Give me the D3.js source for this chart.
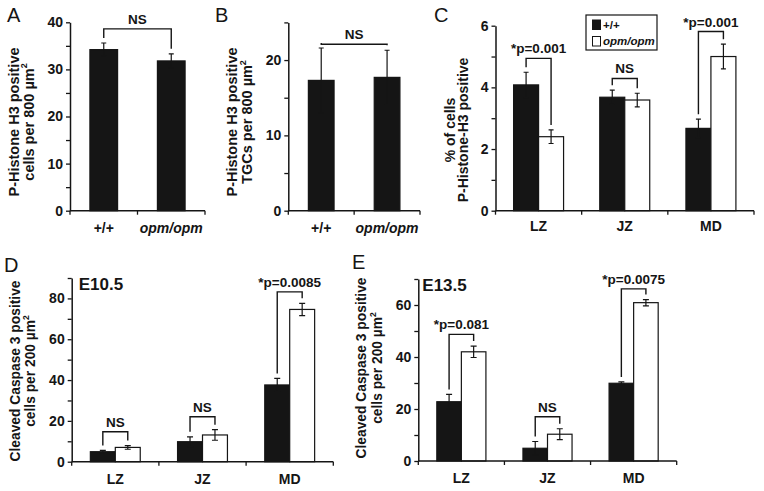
<!DOCTYPE html>
<html><head><meta charset="utf-8">
<script src="https://cdn.jsdelivr.net/npm/d3@7"></script>
<style>
body{margin:0;background:#fff}
svg{display:block}
text{font-family:'Liberation Sans',Arial,Helvetica,sans-serif;fill:#151515}
</style>
</head><body><svg id="fig" width="764" height="491"></svg>
<script>
// ---------- data ----------
const genotypes = ["+/+", "opm/opm"];
const zones = ["LZ", "JZ", "MD"];

const aValues = [34.2, 31.8];
const aErrors = [1.4, 1.5];
const aTicks = [0, 10, 20, 30, 40];
const aMinorTicks = [5, 15, 25, 35];
const aSig = ["NS"];
const aBracketLevel = [38.6];

const bValues = [17.3, 17.7];
const bErrors = [4.3, 3.6];
const bTicks = [0, 10, 20];
const bMinorTicks = [5, 15, 25];
const bSig = ["NS"];
const bBracketLevel = [22.1];

const cWildtype = [4.08, 3.68, 2.67];
const cWildtypeErr = [0.41, 0.23, 0.30];
const cMutant = [2.40, 3.59, 5.00];
const cMutantErr = [0.22, 0.22, 0.40];
const cTicks = [0, 2, 4, 6];
const cMinorTicks = [1, 3, 5];
const cSig = ["*p=0.001", "NS", "*p=0.001"];
const cBracketLevel = [4.94, 4.29, 5.81];

const dWildtype = [4.9, 9.8, 37.6];
const dWildtypeErr = [0.6, 2.4, 3.2];
const dMutant = [7.0, 13.1, 74.6];
const dMutantErr = [0.9, 2.6, 3.0];
const dTicks = [0, 20, 40, 60, 80];
const dMinorTicks = [10, 30, 50, 70, 90];
const dSig = ["NS", "NS", "*p=0.0085"];
const dBracketLevel = [14.7, 22.0, 83.2];

const eWildtype = [22.8, 4.9, 29.9];
const eWildtypeErr = [2.8, 2.6, 0.5];
const eMutant = [42.0, 10.3, 60.9];
const eMutantErr = [2.2, 2.1, 1.2];
const eTicks = [0, 20, 40, 60];
const eMinorTicks = [10, 30, 50, 70];
const eSig = ["*p=0.081", "NS", "*p=0.0075"];
const eBracketLevel = [48.7, 17.0, 66.2];

// ---------- drawing ----------
const svg = d3.select("#fig");
const INK = "#151515";
const FONT = "'Liberation Sans',Arial,Helvetica,sans-serif";

function drawPanel(cfg) {
  const g = svg.append("g");
  const y = d3.scaleLinear().domain([0, cfg.max]).range([cfg.yBottom, cfg.yTop]);
  const x = d3.scaleBand().domain(cfg.cats).range([cfg.x0, cfg.x1]).padding(0);
  const nS = cfg.series.length;
  const bw = cfg.barFrac * x.step();
  const inner = d3.scaleBand().domain(d3.range(nS)).range([-bw * nS / 2, bw * nS / 2]).padding(0);
  const barCenter = (ci, si) => x(cfg.cats[ci]) + x.bandwidth() / 2 + inner(si) + bw / 2;

  // bars
  cfg.series.forEach((s, si) => {
    g.selectAll(null).data(s.values).enter().append("rect")
      .attr("x", (d, i) => barCenter(i, si) - bw / 2)
      .attr("y", d => y(d))
      .attr("width", bw)
      .attr("height", d => y(0) - y(d))
      .attr("fill", s.fill)
      .attr("stroke", INK)
      .attr("stroke-width", 1.2);
  });
  // error bars
  cfg.series.forEach((s, si) => {
    s.values.forEach((v, i) => {
      const cx = barCenter(i, si);
      const e = s.errors[i];
      const cw = cfg.capW;
      g.append("path")
        .attr("d", `M${cx},${y(v - e)}V${y(v + e)}M${cx - cw / 2},${y(v + e)}H${cx + cw / 2}M${cx - cw / 2},${y(v - e)}H${cx + cw / 2}`)
        .attr("stroke", s.fill === "#fff" ? INK : INK)
        .attr("stroke-width", 1.2).attr("fill", "none");
    });
  });
  // brackets
  cfg.brackets.forEach(b => {
    const xl = barCenter(b.l[0], b.l[1]), xr = barCenter(b.r[0], b.r[1]);
    const sl = cfg.series[b.l[1]], sr = cfg.series[b.r[1]];
    const yl = y(sl.values[b.l[0]] + sl.errors[b.l[0]]) - 5;
    const yr = y(sr.values[b.r[0]] + sr.errors[b.r[0]]) - 5;
    const yb = y(b.level);
    g.append("path").attr("d", `M${xl},${yl}V${yb}H${xr}V${yr}`)
      .attr("stroke", INK).attr("stroke-width", 1.4).attr("fill", "none");
    g.append("text").attr("x", (xl + xr) / 2).attr("y", yb - 5)
      .attr("text-anchor", "middle").attr("font-size", 13.5).attr("font-weight", "bold")
      .text(b.label);
  });

  // y axis
  const ya = d3.axisLeft(y)
    .tickValues([...cfg.ticks, ...cfg.minor])
    .tickFormat(d => cfg.ticks.includes(d) ? d : "")
    .tickSize(4).tickPadding(3).tickSizeOuter(0);
  const yg = g.append("g").attr("transform", `translate(${cfg.x0},0)`).call(ya);
  yg.select(".domain").attr("stroke", INK).attr("stroke-width", 1.5);
  yg.selectAll(".tick line").attr("stroke", INK).attr("stroke-width", 1.3);
  yg.selectAll(".tick text").attr("font-family", FONT).attr("font-size", 14).attr("font-weight", "bold").attr("fill", INK);

  // x axis
  const xg = g.append("g");
  xg.append("line").attr("x1", cfg.x0).attr("x2", cfg.x1).attr("y1", cfg.yBottom).attr("y2", cfg.yBottom)
    .attr("stroke", INK).attr("stroke-width", 1.5);
  const bounds = cfg.cats.map(c => x(c)).concat([cfg.x1]);
  xg.selectAll(null).data(bounds).enter().append("line")
    .attr("x1", d => d).attr("x2", d => d).attr("y1", cfg.yBottom).attr("y2", cfg.yBottom + 4)
    .attr("stroke", INK).attr("stroke-width", 1.3);
  xg.selectAll(null).data(cfg.cats).enter().append("text")
    .attr("x", d => x(d) + x.bandwidth() / 2)
    .attr("y", cfg.yBottom + cfg.labelOff)
    .attr("text-anchor", "middle").attr("font-size", 14).attr("font-weight", "bold")
    .attr("font-style", d => d === "opm/opm" ? "italic" : "normal")
    .text(d => d);

  // y title
  const t = g.append("g").attr("transform", `translate(0,${cfg.titleY})`);
  cfg.title.forEach((line, li) => {
    const tx = t.append("text").attr("transform", `translate(${cfg.titleX[li]},0) rotate(-90)`)
      .attr("text-anchor", "middle").attr("font-size", cfg.titleSize).attr("font-weight", "bold");
    tx.append("tspan").text(line[0]);
    if (line[1]) tx.append("tspan").attr("font-size", cfg.titleSize * 0.62).attr("dy", -cfg.titleSize * 0.42).text(line[1]);
  });

  // panel letter
  svg.append("text").attr("x", cfg.letterPos[0]).attr("y", cfg.letterPos[1])
    .attr("font-size", 20).text(cfg.letter);

  if (cfg.stage) {
    g.append("text").attr("x", cfg.x0 + cfg.stageDx).attr("y", cfg.yTop + 12)
      .attr("font-size", 17).attr("font-weight", "bold").text(cfg.stage);
  }
  return {g, x, y};
}

// Panel A
drawPanel({
  cats: genotypes, x0: 70, x1: 205, yTop: 22.3, yBottom: 210.7, max: 40,
  ticks: aTicks, minor: aMinorTicks, barFrac: 0.41, capW: 5, labelOff: 22,
  series: [{values: aValues, errors: aErrors, fill: "#151515"}],
  brackets: [{l: [0, 0], r: [1, 0], level: aBracketLevel[0], label: aSig[0]}],
  title: [["P-Histone H3 positive"], ["cells per 800 µm", "2"]], titleX: [19, 33.5], titleY: 122, titleSize: 14.5,
  letter: "A", letterPos: [7, 22]
});
// Panel B
drawPanel({
  cats: genotypes, x0: 288.3, x1: 420, yTop: 22.4, yBottom: 210.7, max: 25,
  ticks: bTicks, minor: bMinorTicks, barFrac: 0.39, capW: 5, labelOff: 22,
  series: [{values: bValues, errors: bErrors, fill: "#151515"}],
  brackets: [{l: [0, 0], r: [1, 0], level: bBracketLevel[0], label: bSig[0]}],
  title: [["P-Histone H3 positive"], ["TGCs per 800 µm", "2"]], titleX: [237, 252], titleY: 122, titleSize: 14.5,
  letter: "B", letterPos: [215, 22]
});
// Panel C
const pc = drawPanel({
  cats: zones, x0: 495.5, x1: 754, yTop: 25.7, yBottom: 210.7, max: 6,
  ticks: cTicks, minor: cMinorTicks, barFrac: 0.29, capW: 5, labelOff: 20,
  series: [{values: cWildtype, errors: cWildtypeErr, fill: "#151515"}, {values: cMutant, errors: cMutantErr, fill: "#fff"}],
  brackets: zones.map((z, i) => ({l: [i, 0], r: [i, 1], level: cBracketLevel[i], label: cSig[i]})),
  title: [["% of cells"], ["P-Histone-H3 positive"]], titleX: [454.5, 468], titleY: 130, titleSize: 14,
  letter: "C", letterPos: [434, 22]
});
// legend in C
const legendItems = ["+/+", "opm/opm"];
const lg = svg.append("g").attr("transform", "translate(586,15)");
lg.append("rect").attr("x", 0).attr("y", 0).attr("width", 71).attr("height", 35)
  .attr("fill", "#fff").attr("stroke", INK).attr("stroke-width", 1.2);
legendItems.forEach((s, i) => {
  lg.append("rect").attr("x", 6.5).attr("y", 5 + i * 16.5).attr("width", 8).attr("height", 9.5)
    .attr("fill", i === 0 ? "#151515" : "#fff").attr("stroke", INK).attr("stroke-width", 1);
  lg.append("text").attr("x", 17).attr("y", 13.5 + i * 16.5).attr("font-size", 11.5)
    .attr("font-weight", "bold").attr("font-style", i === 1 ? "italic" : "normal").text(s);
});
// Panel D
drawPanel({
  cats: zones, x0: 71.7, x1: 333.3, yTop: 278, yBottom: 461.7, max: 90,
  ticks: dTicks, minor: dMinorTicks, barFrac: 0.286, capW: 6, labelOff: 22,
  series: [{values: dWildtype, errors: dWildtypeErr, fill: "#151515"}, {values: dMutant, errors: dMutantErr, fill: "#fff"}],
  brackets: zones.map((z, i) => ({l: [i, 0], r: [i, 1], level: dBracketLevel[i], label: dSig[i]})),
  title: [["Cleaved Caspase 3 positive"], ["cells per 200 µm", "2"]], titleX: [19.5, 34.5], titleY: 371, titleSize: 13.8,
  letter: "D", letterPos: [4, 272], stage: "E10.5", stageDx: 7
});
// Panel E
drawPanel({
  cats: zones, x0: 418.3, x1: 676.7, yTop: 279, yBottom: 461, max: 70,
  ticks: eTicks, minor: eMinorTicks, barFrac: 0.285, capW: 6, labelOff: 22,
  series: [{values: eWildtype, errors: eWildtypeErr, fill: "#151515"}, {values: eMutant, errors: eMutantErr, fill: "#fff"}],
  brackets: zones.map((z, i) => ({l: [i, 0], r: [i, 1], level: eBracketLevel[i], label: eSig[i]})),
  title: [["Cleaved Caspase 3 positive"], ["cells per 200 µm", "2"]], titleX: [366, 382], titleY: 368, titleSize: 13.8,
  letter: "E", letterPos: [352, 269], stage: "E13.5", stageDx: 4
});
</script>
</body></html>
